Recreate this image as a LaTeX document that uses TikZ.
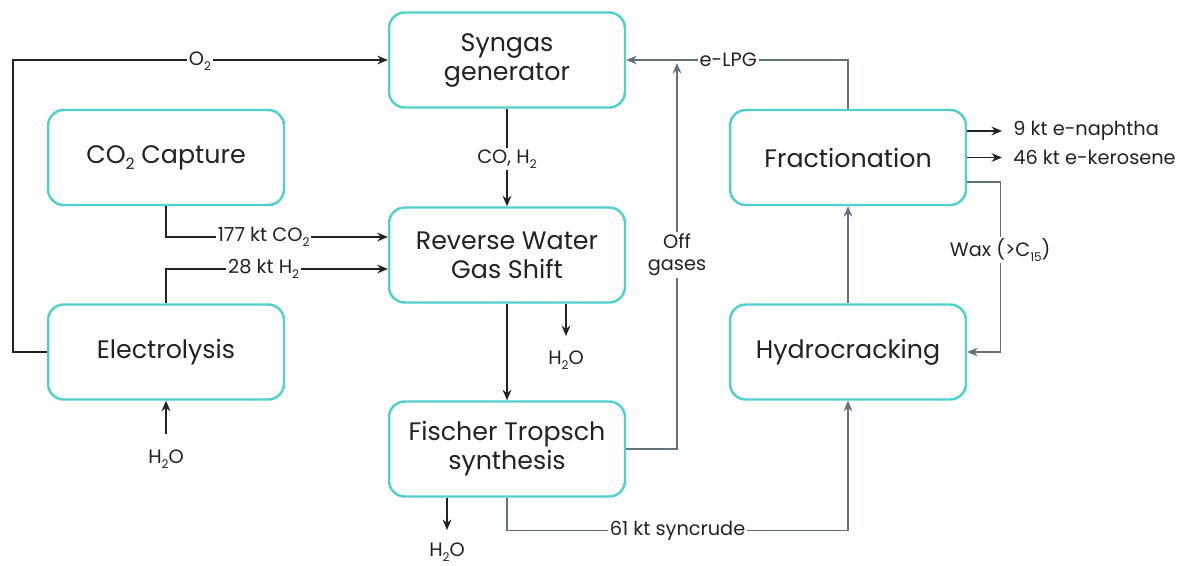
\documentclass[tikz,border=0pt]{standalone}
\usepackage{fontspec}
\setmainfont{Poppins}
\usetikzlibrary{arrows.meta,calc}
\definecolor{teal1}{RGB}{80,208,206}
\definecolor{ink}{RGB}{34,34,34}
\definecolor{slate}{RGB}{100,112,122}
\newcommand{\sub}[1]{\raisebox{-0.45ex}{\scalebox{0.62}{#1}}}
\begin{document}
\begin{tikzpicture}[x=0.02cm,y=-0.02cm,
 box/.style={draw=teal1, line width=1.4pt, rounded corners=9pt, minimum width=4.72cm, minimum height=1.9cm, align=center, font=\fontsize{14.4}{16.5}\selectfont, text=ink},
 arr/.style={draw=ink, line width=0.75pt, -{Stealth[length=6pt,width=5pt,inset=2pt]}},
 garr/.style={arr, draw=slate},
 lbl/.style={fill=white, inner sep=1pt, font=\fontsize{11}{13.5}\selectfont, text=ink, align=center},
 txt/.style={inner sep=0pt, font=\fontsize{11}{13.5}\selectfont, text=ink},
 ]
\useasboundingbox (0,0) rectangle (1185,565);
\fill[white] (0,0) rectangle (1185,565);

% boxes
\node[box] (syn)  at (507,60)  {Syngas\\generator};
\node[box] (co2)  at (166,157.5) {CO\sub{2} Capture};
\node[box] (rwgs) at (507,255) {Reverse Water\\Gas Shift};
\node[box] (ele)  at (166,352) {Electrolysis};
\node[box] (ft)   at (507,449) {Fischer Tropsch\\synthesis};
\node[box] (frac) at (848,157.5) {Fractionation};
\node[box] (hc)   at (848,352) {Hydrocracking};

% free text nodes
\node[txt] (h2oA) at (166,459) {H\sub{2}O};
\node[txt] (h2oB) at (566,360) {H\sub{2}O};
\node[txt] (h2oC) at (447,552) {H\sub{2}O};
\node[txt, anchor=west] (naph) at (1013,131) {9 kt e-naphtha};
\node[txt, anchor=west] (kero) at (1013,157.5) {46 kt e-kerosene};
\coordinate (h2oAtail) at (166,434);
\coordinate (h2oBtip) at (566,336);
\coordinate (h2oCtip) at (447,530);
\coordinate (ogtip) at (677,63);
\coordinate (naphtip) at (1002,131);
\coordinate (kerotip) at (1002,157.5);

% O2 loop
\draw[arr] (ele.west) -- (13,352) |- (syn.west);
\node[lbl] at (200,61) {O\sub{2}};

% CO, H2
\draw[arr] (syn.south) -- node[lbl, pos=0.52] {CO, H\sub{2}} (rwgs.north);

% CO2 and H2 into RWGS
\draw[arr] (co2.south) |- node[lbl, pos=0.72] {177 kt CO\sub{2}} ($(rwgs.west)+(0,-18)$);
\draw[arr] (ele.north) |- node[lbl, pos=0.72] {28 kt H\sub{2}} ($(rwgs.west)+(0,14)$);

% water into electrolysis
\draw[arr] (h2oAtail) -- (ele.south);

% RWGS outputs
\draw[arr] (rwgs.south) -- (ft.north);
\draw[arr] (rwgs.south -| h2oBtip) -- (h2oBtip);

% FT outputs
\draw[arr] (ft.south -| h2oCtip) -- (h2oCtip);
\draw[garr] (ft.south) -- ++(0,33) -| node[lbl, pos=0.25] {61 kt syncrude} (hc.south);
\draw[garr] (ft.east) -| (ogtip);
\node[lbl, font=\fontsize{11}{12.5}\selectfont] at (677,255) {Off\\gases};

% hydrocracking to fractionation
\draw[garr] (hc.north) -- (frac.south);

% fractionation outputs
\draw[garr] (frac.north) |- node[lbl, pos=0.77] {e-LPG} (syn.east);
\draw[arr] (frac.east |- naphtip) -- (naphtip);
\draw[arr] (frac.east |- kerotip) -- (kerotip);
\draw[garr] ($(frac.east)+(0,24.5)$) -- ++(33,0) |- node[lbl, pos=0.2] {Wax (>C\sub{15})} (hc.east);
\end{tikzpicture}
\end{document}
